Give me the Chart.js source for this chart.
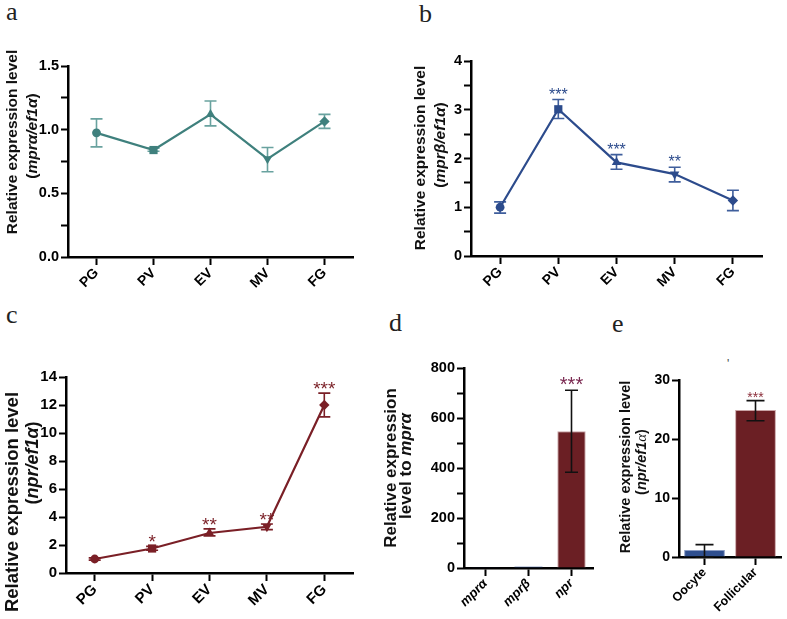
<!DOCTYPE html>
<html>
<head>
<meta charset="utf-8">
<script src="https://cdn.jsdelivr.net/npm/chart.js@4.4.0/dist/chart.umd.min.js"></script>
<style>
    body { margin: 0; background: #fff; }
    #fig { position: relative; width: 787px; height: 619px; overflow: hidden; }
    canvas { position: absolute; }
    .tag { position: absolute; font-family: "Liberation Serif", "DejaVu Serif", serif; font-size: 26px; line-height: 1; color: #222; }
</style>
</head>
<body>
<div id="fig">
    <div class="tag" style="left:6px;top:-1px">a</div>
    <div class="tag" style="left:419px;top:1px">b</div>
    <div class="tag" style="left:6px;top:302px">c</div>
    <div class="tag" style="left:389px;top:310px">d</div>
    <div class="tag" style="left:612px;top:311px">e</div>
    <div style="position:absolute;left:727px;top:357px;font:12px 'Liberation Sans';color:#444">'</div>
    <canvas id="chartA" width="390" height="300" style="left:0;top:0"></canvas>
    <canvas id="chartB" width="397" height="300" style="left:390px;top:0"></canvas>
    <canvas id="chartC" width="390" height="319" style="left:0;top:300px"></canvas>
    <canvas id="chartD" width="225" height="319" style="left:380px;top:300px"></canvas>
    <canvas id="chartE" width="182" height="319" style="left:605px;top:300px"></canvas>
</div>
<script>
// Data
const stages = ['PG', 'PV', 'EV', 'MV', 'FG'];

const mpraMean = [0.975, 0.84, 1.12, 0.77, 1.065];
const mpraLow  = [0.865, 0.83, 1.03, 0.67, 1.01];
const mpraHigh = [1.085, 0.855, 1.225, 0.86, 1.12];

const mprbMean = [1.0, 3.01, 1.92, 1.68, 1.14];
const mprbLow  = [0.88, 2.82, 1.78, 1.52, 0.93];
const mprbHigh = [1.11, 3.21, 2.08, 1.82, 1.35];
const mprbStars = ['', '***', '***', '**', ''];

const nprMean = [1.0, 1.75, 2.86, 3.3, 12.0];
const nprLow  = [0.92, 1.62, 2.65, 3.1, 11.15];
const nprHigh = [1.08, 1.9, 3.15, 3.5, 12.85];
const nprStars = ['', '*', '**', '**', '***'];

const genes = ['mprα', 'mprβ', 'npr'];
const geneMean = [1, 6, 547];
const geneLow  = [null, null, 383];
const geneHigh = [null, null, 711];
const geneStars = ['', '', '***'];

const cells = ['Oocyte', 'Follicular'];
const cellMean = [1.2, 24.9];
const cellLow  = [0, 23.1];
const cellHigh = [2.1, 26.5];
const cellStars = ['', '***'];

const SANS = '"Liberation Sans", Arial, sans-serif';
const markerStyles = ['circle', 'rect', 'triangle', 'triangle', 'rectRot'];
const markerRotation = [0, 0, 0, 180, 0];
const markerSizes = [4.4, 5.8, 5.4, 5.4, 5.2];

// Plugins
function drawErrors(chart, opts) {
    const { ctx, scales: { x, y } } = chart;
    ctx.save();
    ctx.strokeStyle = opts.color;
    ctx.lineWidth = opts.width || 1.5;
    opts.low.forEach((lo, i) => {
        const hi = opts.high[i];
        if (lo === null || hi === null) return;
        const px = x.getPixelForValue(i);
        const top = y.getPixelForValue(hi);
        const bot = y.getPixelForValue(lo);
        const c = opts.cap / 2;
        ctx.beginPath();
        ctx.moveTo(px, top); ctx.lineTo(px, bot);
        ctx.moveTo(px - c, top); ctx.lineTo(px + c, top);
        ctx.moveTo(px - c, bot); ctx.lineTo(px + c, bot);
        ctx.stroke();
    });
    ctx.restore();
}

const errorBars = {
    id: 'errorBars',
    beforeDatasetsDraw(chart, args, opts) { if (!opts.above) drawErrors(chart, opts); },
    afterDatasetsDraw(chart, args, opts) { if (opts.above) drawErrors(chart, opts); }
};

const stars = {
    id: 'stars',
    afterDatasetsDraw(chart, args, opts) {
        if (!opts.marks) return;
        const { ctx, scales: { x, y } } = chart;
        ctx.save();
        ctx.fillStyle = opts.color;
        ctx.font = opts.font;
        ctx.textAlign = 'center';
        ctx.textBaseline = 'alphabetic';
        opts.marks.forEach((m, i) => {
            if (!m) return;
            ctx.fillText(m, x.getPixelForValue(i), y.getPixelForValue(opts.high[i]) + opts.dy);
        });
        ctx.restore();
    }
};

const yTitle = {
    id: 'yTitle',
    afterDraw(chart, args, opts) {
        const ctx = chart.ctx;
        opts.lines.forEach(line => {
            ctx.save();
            ctx.translate(line.x, line.y);
            ctx.rotate(-Math.PI / 2);
            ctx.fillStyle = '#111';
            ctx.textBaseline = 'middle';
            ctx.textAlign = 'left';
            let total = 0;
            const widths = line.parts.map(p => {
                ctx.font = p[1];
                const w = ctx.measureText(p[0]).width;
                total += w;
                return w;
            });
            let cx = -total / 2;
            line.parts.forEach((p, i) => {
                ctx.font = p[1];
                ctx.fillText(p[0], cx, 0);
                cx += widths[i];
            });
            ctx.restore();
        });
    }
};

// Axes
const Y_W = 40;

function yAxis(max, step, every, decimals, size) {
    return {
        min: 0, max: max,
        afterFit(s) { s.width = Y_W; },
        border: { display: true, color: '#000', width: 2.5 },
        grid: { display: true, drawOnChartArea: false, drawTicks: true, tickLength: 7, tickWidth: 2, tickColor: '#000' },
        ticks: {
            stepSize: step, autoSkip: false, padding: 2, color: '#000',
            font: { family: SANS, size: size, weight: 'bold' },
            callback: v => (Math.abs(v / every - Math.round(v / every)) < 1e-6 ? v.toFixed(decimals) : '')
        }
    };
}

function xAxis(size, italic, h) {
    return {
        offset: true,
        afterFit(s) { s.height = h; },
        border: { display: true, color: '#000', width: 2.5 },
        grid: { display: true, drawOnChartArea: false, offset: false, drawTicks: true, tickLength: 8, tickWidth: 2, tickColor: '#000' },
        ticks: {
            autoSkip: false, minRotation: 45, maxRotation: 45, padding: 0, color: '#000',
            font: { family: SANS, size: size, weight: 'bold', style: italic ? 'italic' : 'normal' }
        }
    };
}

function baseOptions(canvas, area, xh, scales, plugins) {
    return {
        responsive: false, animation: false, events: [],
        layout: { padding: { left: area.l - Y_W, top: area.t, right: canvas.width - area.r, bottom: canvas.height - area.b - xh } },
        scales: scales,
        plugins: Object.assign({ legend: { display: false }, tooltip: { enabled: false } }, plugins)
    };
}

function lineChart(id, area, values, low, high, color, errColor, yOpts, tickSize, xh, titleLines, starOpts) {
    const canvas = document.getElementById(id);
    return new Chart(canvas, {
        type: 'line',
        data: {
            labels: stages,
            datasets: [{
                data: values,
                borderColor: color, backgroundColor: color,
                borderWidth: 2.2, tension: 0,
                pointStyle: markerStyles, pointRotation: markerRotation, pointRadius: markerSizes,
                pointBorderWidth: 0, clip: false
            }]
        },
        options: baseOptions(canvas, area, xh, { x: xAxis(tickSize, false, xh), y: yOpts }, {
            errorBars: { low: low, high: high, color: errColor, cap: 12, width: 1.6, above: false },
            stars: starOpts,
            yTitle: { lines: titleLines }
        }),
        plugins: [errorBars, stars, yTitle]
    });
}

const B = s => `bold ${s}px ${SANS}`;
const BI = s => `italic bold ${s}px ${SANS}`;

// a
lineChart('chartA', { l: 68, t: 66, r: 353, b: 257 }, mpraMean, mpraLow, mpraHigh, '#3f807d', '#69a29f',
    yAxis(1.5, 0.25, 0.5, 1, 14.5), 14, 42,
    [
        { x: 13, y: 142, parts: [['Relative expression level', B(15.5)]] },
        { x: 33, y: 136, parts: [['(', B(15.5)], ['mprα/ef1α', BI(15.5)], [')', B(15.5)]] }
    ], {});

// b
lineChart('chartB', { l: 81, t: 61, r: 372, b: 256 }, mprbMean, mprbLow, mprbHigh, '#2c4b8c', '#3f5e9c',
    yAxis(4, 0.5, 1, 0, 14.5), 14, 42,
    [
        { x: 31, y: 158, parts: [['Relative expression level', B(15.5)]] },
        { x: 51, y: 145, parts: [['(', B(15.5)], ['mprβ/ef1α', BI(15.5)], [')', B(15.5)]] }
    ], { marks: mprbStars, high: mprbHigh, color: '#2c4b8c', font: `16px ${SANS}`, dy: 0 });

// c
lineChart('chartC', { l: 66, t: 77, r: 353, b: 273 }, nprMean, nprLow, nprHigh, '#7a1f26', '#7a1f26',
    yAxis(14, 2, 2, 0, 15), 15, 45,
    [
        { x: 13, y: 202, parts: [['Relative expression level', B(18.5)]] },
        { x: 33, y: 163, parts: [['(', B(18)], ['npr/ef1α', BI(18)], [')', B(18)]] }
    ], { marks: nprStars, high: nprHigh, color: '#7a1f26', font: `19px ${SANS}`, dy: 2 });

// d
const canvasD = document.getElementById('chartD');
new Chart(canvasD, {
    type: 'bar',
    data: {
        labels: genes,
        datasets: [{
            data: geneMean,
            backgroundColor: ['#2c4b8c', '#2c4b8c', '#6b1f24'],
            borderColor: ['#2c4b8c', '#2c4b8c', '#c9a3a5'],
            borderWidth: 1,
            categoryPercentage: 1, barPercentage: 0.66
        }]
    },
    options: baseOptions(canvasD, { l: 84, t: 68, r: 213, b: 268 }, 50,
        { x: xAxis(13, true, 50), y: yAxis(800, 100, 200, 0, 14.5) }, {
        errorBars: { low: geneLow, high: geneHigh, color: '#111', cap: 13, width: 1.6, above: true },
        stars: { marks: geneStars, high: geneHigh, color: '#7a2850', font: `20px ${SANS}`, dy: 1 },
        yTitle: { lines: [
            { x: 11.5, y: 168, parts: [['Relative expression', B(17)]] },
            { x: 26, y: 166, parts: [['level to ', B(17)], ['mprα', BI(17)]] }
        ] }
    }),
    plugins: [errorBars, stars, yTitle]
});

// e
const canvasE = document.getElementById('chartE');
new Chart(canvasE, {
    type: 'bar',
    data: {
        labels: cells,
        datasets: [{
            data: cellMean,
            backgroundColor: ['#2f4f8f', '#6b1f24'],
            borderColor: ['#8a9cc4', '#c9a3a5'],
            borderWidth: 1,
            categoryPercentage: 1, barPercentage: 0.8
        }]
    },
    options: baseOptions(canvasE, { l: 74, t: 80, r: 176, b: 257 }, 60,
        { x: xAxis(12.5, false, 60), y: yAxis(30, 10, 10, 0, 14) }, {
        errorBars: { low: cellLow, high: cellHigh, color: '#111', cap: 18, width: 1.6, above: true },
        stars: { marks: cellStars, high: cellHigh, color: '#8b2e3a', font: `14px ${SANS}`, dy: 1 },
        yTitle: { lines: [
            { x: 21, y: 167, parts: [['Relative expression level', B(14.5)]] },
            { x: 37, y: 162, parts: [['(', B(14.5)], ['npr/ef1', BI(14.5)], ['α', `italic 15px "Liberation Serif", serif`], [')', B(14.5)]] }
        ] }
    }),
    plugins: [errorBars, stars, yTitle]
});
</script>
</body>
</html>
